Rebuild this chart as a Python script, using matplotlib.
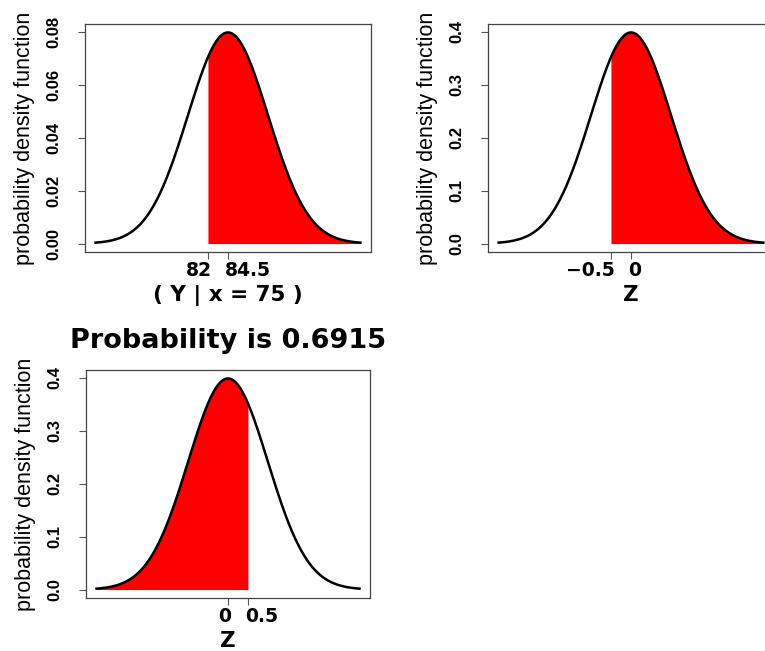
import numpy as np
import matplotlib
matplotlib.use("Agg")
import matplotlib.pyplot as plt

# distribution parameters
means = [84.5, 0.0, 0.0]
sds = [5.0, 1.0, 1.0]
span_sd = 3.3                      # curves drawn over mean +/- 3.3 sd
cutoffs = [82.0, -0.5, 0.5]
shade_side = ["right", "right", "left"]
xtick_vals = [[82, 84.5], [-0.5, 0], [0, 0.5]]
xtick_labels = [["82", "84.5"], ["\u22120.5", "0"], ["0", "0.5"]]
ytick_vals = [[0.00, 0.02, 0.04, 0.06, 0.08],
              [0.0, 0.1, 0.2, 0.3, 0.4],
              [0.0, 0.1, 0.2, 0.3, 0.4]]
ytick_labels = [["0.00", "0.02", "0.04", "0.06", "0.08"],
                ["0.0", "0.1", "0.2", "0.3", "0.4"],
                ["0.0", "0.1", "0.2", "0.3", "0.4"]]
xlabels = ["( Y | x = 75 )", "Z", "Z"]
titles = ["", "", "Probability is 0.6915"]

W, H = 765, 651
# axes boxes in pixels: left, top, right, bottom
boxes = [(85, 24, 371, 252), (488, 24, 774, 252), (86, 370, 370, 598)]

sans = ["Liberation Sans", "DejaVu Sans"]
wide = ["DejaVu Sans"]

fig = plt.figure(figsize=(W / 100, H / 100), dpi=100)
fig.patch.set_facecolor("white")

for i in range(3):
    l, t, r, b = boxes[i]
    hpx = b - t
    ax = fig.add_axes([l / W, 1 - b / H, (r - l) / W, hpx / H])
    mu, sd = means[i], sds[i]
    x = np.linspace(mu - span_sd * sd, mu + span_sd * sd, 600)
    y = np.exp(-0.5 * ((x - mu) / sd) ** 2) / (sd * np.sqrt(2 * np.pi))
    if shade_side[i] == "right":
        xs = np.concatenate([[cutoffs[i]], x[x >= cutoffs[i]]])
    else:
        xs = np.concatenate([x[x <= cutoffs[i]], [cutoffs[i]]])
    ys = np.exp(-0.5 * ((xs - mu) / sd) ** 2) / (sd * np.sqrt(2 * np.pi))
    ax.fill_between(xs, 0, ys, color="#FF0000", linewidth=0, zorder=2)
    ax.plot(x, y, color="black", linewidth=1.8, zorder=3)

    rng = x[-1] - x[0]
    ax.set_xlim(x[0] - 0.04 * rng, x[-1] + 0.04 * rng)
    peak = y.max()
    ax.set_ylim(-0.04 * peak, 1.04 * peak)

    # x ticks: labels pushed apart like the original (left one right-aligned)
    ax.set_xticks(xtick_vals[i])
    ax.set_xticklabels([])
    xt = ax.get_xaxis_transform()
    gap = xtick_vals[i][1] - xtick_vals[i][0]
    ax.text(xtick_vals[i][0] + 0.18 * gap, -18 / hpx, xtick_labels[i][0],
            transform=xt, ha="right", va="center", fontsize=13.5,
            fontweight="bold", family=wide)
    ax.text(xtick_vals[i][1] - 0.15 * gap, -18 / hpx, xtick_labels[i][1],
            transform=xt, ha="left", va="center", fontsize=13.5,
            fontweight="bold", family=wide)

    ax.text(0.5, -43 / hpx, xlabels[i], transform=ax.transAxes,
            ha="center", va="center", fontsize=15.5, fontweight="bold",
            family=wide)

    ax.set_yticks(ytick_vals[i])
    ax.set_yticklabels(ytick_labels[i], rotation=90, va="center",
                       fontsize=12, fontweight="bold", family=sans)
    ax.tick_params(axis="both", direction="out", length=5, width=0.8,
                   color="#555555")
    ax.tick_params(axis="y", pad=12)
    for s in ax.spines.values():
        s.set_color("#444444")
        s.set_linewidth(0.9)

    ax.set_ylabel("probability density function", fontsize=15.5,
                  family=sans, labelpad=8)
    if titles[i]:
        ax.set_title(titles[i], fontsize=19.5, fontweight="bold",
                     family=wide, pad=16)

fig.savefig("out.png", dpi=100, facecolor="white")
